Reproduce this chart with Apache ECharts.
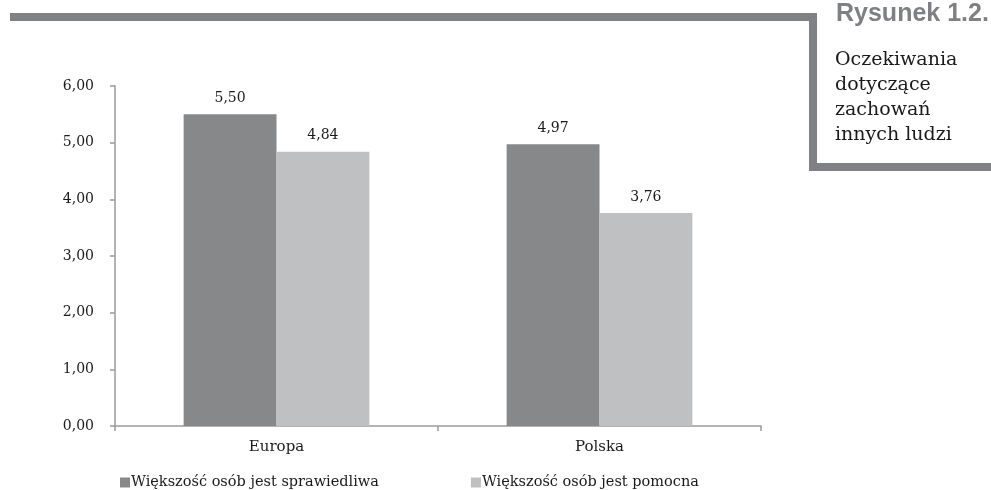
<!DOCTYPE html>
<html>
<head>
<meta charset="utf-8">
<script src="https://cdn.jsdelivr.net/npm/echarts@6/dist/echarts.min.js"></script>
<style>
  html, body { margin: 0; padding: 0; background: #ffffff; }
  #chart { width: 991px; height: 490px; }
</style>
</head>
<body>
<div id="chart"></div>
<script>
// Categories and series values
const categories = ['Europa', 'Polska'];
const seriesNames = ['Większość osób jest sprawiedliwa', 'Większość osób jest pomocna'];
const sprawiedliwa = [5.50, 4.97];
const pomocna = [4.84, 3.76];
const yTicks = [0, 1, 2, 3, 4, 5, 6];

const figureTitle = 'Rysunek 1.2.';
const figureCaption = ['Oczekiwania', 'dotyczące', 'zachowań', 'innych ludzi'];

const serif = '"DejaVu Serif", "Liberation Serif", serif';
const fmt = v => v.toFixed(2).replace('.', ',');

const chart = echarts.init(document.getElementById('chart'), null, { renderer: 'canvas' });

const valueLabel = {
  show: true, position: 'top', distance: 9,
  fontFamily: serif, fontSize: 14, color: '#1a1a1a',
  formatter: p => fmt(p.value)
};

chart.setOption({
  animation: false,
  backgroundColor: '#ffffff',
  grid: { left: 115, right: 230, top: 86, bottom: 64, containLabel: false },
  legend: {
    left: 115,
    top: 470,
    itemWidth: 10,
    itemHeight: 10,
    itemGap: 92,
    icon: 'rect',
    textStyle: { fontFamily: serif, fontSize: 14.5, color: '#1a1a1a', padding: [0, 0, 0, -4] },
    data: seriesNames
  },
  xAxis: {
    type: 'category',
    data: categories,
    axisLine: { lineStyle: { color: '#9a9a9a', width: 1.5 } },
    axisTick: { show: true, length: 5, lineStyle: { color: '#9a9a9a', width: 1.5 } },
    axisLabel: { fontFamily: serif, fontSize: 15, color: '#1a1a1a', margin: 14 }
  },
  yAxis: {
    type: 'value',
    min: yTicks[0],
    max: yTicks[yTicks.length - 1],
    interval: 1,
    axisLine: { show: true, lineStyle: { color: '#9a9a9a', width: 1.5 } },
    axisTick: { show: true, length: 5, lineStyle: { color: '#9a9a9a', width: 1.5 } },
    splitLine: { show: false },
    axisLabel: { fontFamily: serif, fontSize: 14, color: '#1a1a1a', margin: 21, formatter: fmt }
  },
  series: [
    {
      name: seriesNames[0],
      type: 'bar',
      data: sprawiedliwa,
      barGap: '0%',
      barCategoryGap: '42.5%',
      itemStyle: { color: '#87888a' },
      label: valueLabel
    },
    {
      name: seriesNames[1],
      type: 'bar',
      data: pomocna,
      barGap: '0%',
      barCategoryGap: '42.5%',
      itemStyle: { color: '#bfc0c2' },
      label: valueLabel
    }
  ],
  graphic: [
    {
      type: 'polyline',
      silent: true,
      shape: { points: [[10, 17], [813, 17], [813, 167], [991, 167]] },
      style: { stroke: '#808185', lineWidth: 8, fill: null, lineJoin: 'miter' }
    },
    {
      type: 'text',
      left: 836,
      top: 2,
      style: {
        text: figureTitle,
        fontFamily: '"Liberation Sans", Arial, sans-serif',
        fontWeight: 'bold',
        fontSize: 25,
        fill: '#7f8083'
      }
    },
    {
      type: 'text',
      left: 835,
      top: 48,
      style: {
        text: figureCaption.join('\n'),
        fontFamily: serif,
        fontSize: 19,
        lineHeight: 25,
        fill: '#1a1a1a'
      }
    }
  ]
});
</script>
</body>
</html>
